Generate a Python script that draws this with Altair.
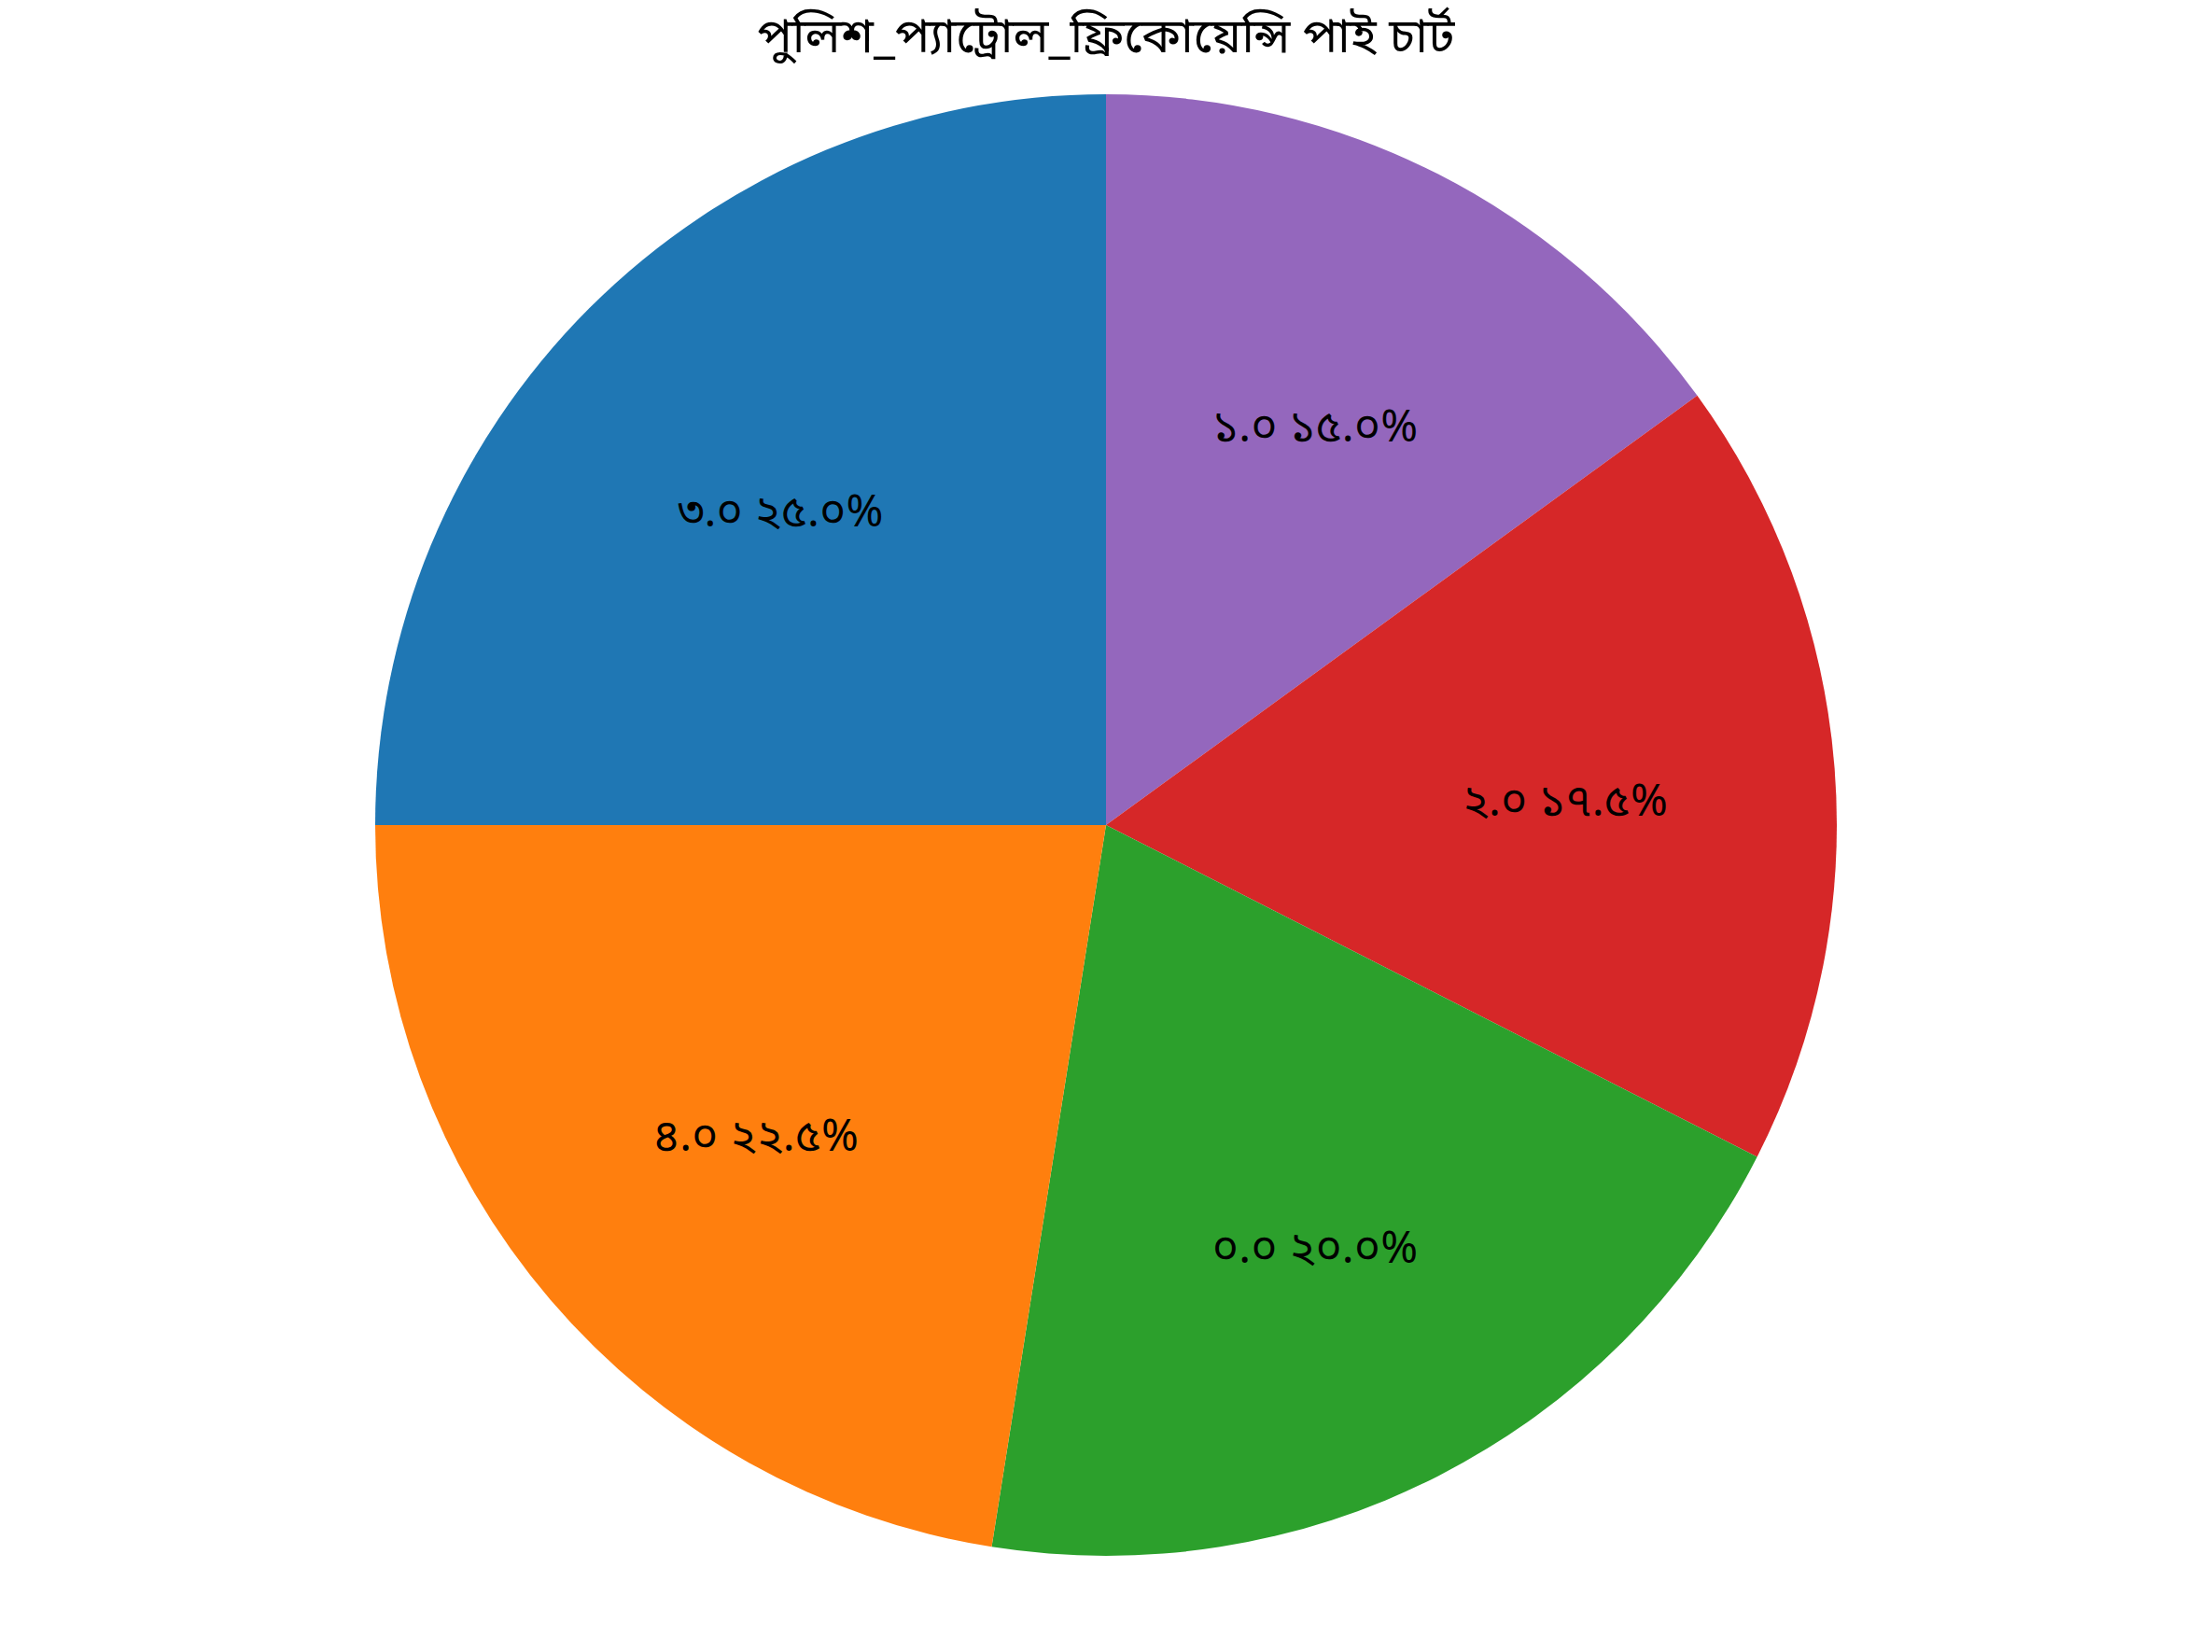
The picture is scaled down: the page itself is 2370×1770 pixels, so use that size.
import altair as alt
import pandas as pd

# Data (clockwise order from 12 o'clock as drawn)
categories = ["1.0", "2.0", "0.0", "4.0", "3.0"]
counts = [6, 7, 8, 9, 10]
colors = ["#9467bd", "#d62728", "#2ca02c", "#ff7f0e", "#1f77b4"]
title_text = "পুলিশ_প্যাট্রোল_ফ্রিকোয়েন্সি পাই চার্ট"

bn = str.maketrans("0123456789", "০১২৩৪৫৬৭৮৯")
total = sum(counts)
labels = [f"{c} {v / total * 100:.1f}%".translate(bn) for c, v in zip(categories, counts)]

df = pd.DataFrame({
    "cat": categories,
    "count": counts,
    "order": list(range(len(categories))),
    "label": labels,
})

W, H = 2370, 1770
CX, CY, R = 1185, 884, 783
FONT = "Noto Sans Bengali, Lohit Bengali, FreeSans, Noto Sans, sans-serif"

base = alt.Chart(df).encode(
    theta=alt.Theta("count:Q", stack=True),
    order=alt.Order("order:Q"),
)

arcs = base.mark_arc(stroke=None).encode(
    color=alt.Color("cat:N", scale=alt.Scale(domain=categories, range=colors), legend=None),
    x=alt.value(CX), y=alt.value(CY),
    radius=alt.value(R),
)

text = base.mark_text(fontSize=48, font=FONT, color="black", baseline="middle", dy=15).encode(
    text="label:N",
    x=alt.value(CX), y=alt.value(CY),
    radius=alt.value(R * 0.63),
)

title = alt.Chart(pd.DataFrame({"t": [title_text]})).mark_text(
    fontSize=52, font=FONT, fontWeight="normal", color="black", baseline="middle"
).encode(text="t:N", x=alt.value(CX), y=alt.value(40))

chart = alt.layer(arcs, text, title).properties(
    width=W, height=H,
    autosize=alt.AutoSizeParams(type="none"),
    padding=0,
).configure_view(stroke=None)

chart.save("out.html", embed_options={"renderer": "svg", "actions": False})
